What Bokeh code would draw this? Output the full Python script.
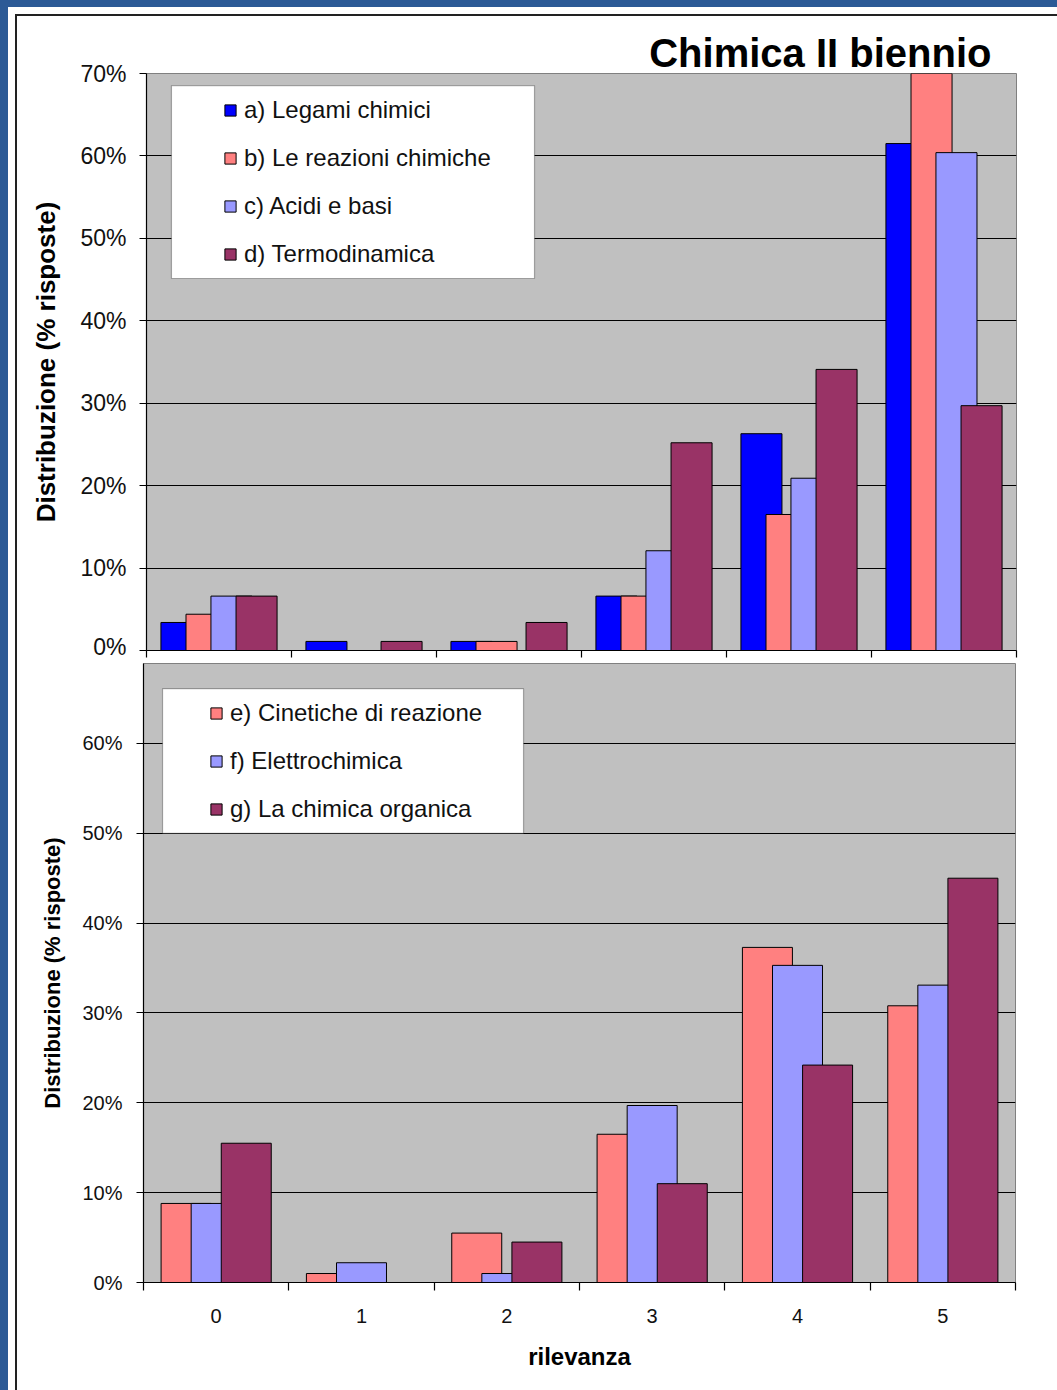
from bokeh.plotting import figure
from bokeh.layouts import column, row
from bokeh.models import (Range1d, FixedTicker, PrintfTickFormatter, Legend, LegendItem,
                          BoxAnnotation, ColumnDataSource, Spacer)
from bokeh.transform import dodge
from bokeh.embed import file_html
from bokeh.resources import INLINE

# ---------------- data ----------------
rilevanza = [0, 1, 2, 3, 4, 5]
tick_labels = ["0", "1", "2", "3", "4", "5"]

top_names = ["a) Legami chimici", "b) Le reazioni chimiche", "c) Acidi e basi", "d) Termodinamica"]
legami = [3.4, 1.1, 1.1, 6.6, 26.3, 61.5]
reazioni = [4.4, 0.0, 1.1, 6.6, 16.5, 71.5]
acidi = [6.6, 0.0, 0.0, 12.1, 20.9, 60.4]
termo = [6.6, 1.1, 3.4, 25.2, 34.1, 29.7]

bottom_names = ["e) Cinetiche di reazione", "f) Elettrochimica", "g) La chimica organica"]
cinetiche = [8.8, 1.0, 5.5, 16.5, 37.3, 30.8]
elettro = [8.8, 2.2, 1.0, 19.7, 35.3, 33.1]
organica = [15.5, 0.0, 4.5, 11.0, 24.2, 45.0]

title_text = "Chimica II biennio"
y_title = "Distribuzione (% risposte)"
x_title = "rilevanza"

# ---------------- styles ----------------
FONT = "Liberation Sans"
C_A = "#0000FF"
C_B = "#FF8080"
C_C = "#9999FF"
C_D = "#993366"
PLOT_BG = "#C0C0C0"
BLUE_BG = "#2c5a96"

src_top = ColumnDataSource(dict(x=rilevanza, a=legami, b=reazioni, c=acidi, d=termo))
src_bot = ColumnDataSource(dict(x=rilevanza, e=cinetiche, f=elettro, g=organica))


def base_fig(w, h, bl, br, bt, bb, ymax):
    p = figure(width=w, height=h, x_range=Range1d(-0.5, 5.5), y_range=Range1d(0, ymax),
               output_backend="svg", toolbar_location=None,
               min_border_left=bl, min_border_right=br, min_border_top=bt, min_border_bottom=bb)
    p.background_fill_color = PLOT_BG
    p.border_fill_color = "white"
    p.outline_line_color = "#808080"
    p.outline_line_width = 1
    p.xgrid.visible = False
    p.ygrid.grid_line_color = "black"
    p.ygrid.grid_line_width = 1.2
    for ax in (p.xaxis[0], p.yaxis[0]):
        ax.axis_line_color = "black"
        ax.axis_line_width = 1.2
        ax.major_tick_line_color = "black"
        ax.major_tick_line_width = 1.2
        ax.minor_tick_line_color = "black"
        ax.minor_tick_line_width = 1.2
        ax.major_tick_in = 0
        ax.minor_tick_in = 0
        ax.major_label_text_font = FONT
        ax.major_label_text_color = "#111111"
        ax.axis_label_text_font = FONT
        ax.axis_label_text_font_style = "bold"
        ax.axis_label_text_color = "black"
    p.yaxis[0].major_tick_out = 7
    p.yaxis[0].minor_tick_out = 0
    p.yaxis[0].formatter = PrintfTickFormatter(format="%d%%")
    return p


# ---------------- top chart ----------------
W = 1040
p1 = base_fig(W, 643, 129, 41, 57, 9, 70)
p1.title.text = title_text
p1.title.align = "right"
p1.title.offset = 25
p1.title.standoff = -3
p1.title.text_font = FONT
p1.title.text_font_size = "40px"
p1.title.text_font_style = "bold"
p1.title.text_color = "black"
p1.yaxis[0].ticker = FixedTicker(ticks=[0, 10, 20, 30, 40, 50, 60, 70], minor_ticks=[])
p1.ygrid.ticker = FixedTicker(ticks=[10, 20, 30, 40, 50, 60])
p1.yaxis[0].major_label_text_font_size = "23px"
p1.yaxis[0].major_label_standoff = 13
p1.yaxis[0].axis_label = y_title
p1.yaxis[0].axis_label_text_font_size = "26px"
p1.yaxis[0].axis_label_standoff = 16
p1.xaxis[0].ticker = FixedTicker(ticks=[-0.5, 0.5, 1.5, 2.5, 3.5, 4.5, 5.5], minor_ticks=[])
p1.xaxis[0].major_tick_out = 7
p1.xaxis[0].major_label_text_font_size = "1px"
p1.xaxis[0].major_label_text_alpha = 0
p1.xaxis[0].major_label_standoff = 0

tw = 0.283
offs_top = [-0.259, -0.086, 0.086, 0.259]
rs_top = []
for key, col, off in zip(["a", "b", "c", "d"], [C_A, C_B, C_C, C_D], offs_top):
    r = p1.vbar(x=dodge("x", off, range=p1.x_range), top=key, width=tw, bottom=0, source=src_top,
                fill_color=col, line_color="black", line_width=1)
    rs_top.append(r)

p1.add_layout(BoxAnnotation(left=-0.328, right=2.176, bottom=45.13, top=68.54,
                            fill_color="white", fill_alpha=1, line_color="black", line_width=1.2))
leg1 = Legend(items=[LegendItem(label=n, renderers=[r]) for n, r in zip(top_names, rs_top)],
              location=(77, 382), orientation="vertical",
              background_fill_alpha=0, border_line_alpha=0, padding=0, margin=0,
              spacing=20, label_height=28, glyph_height=14, glyph_width=14, label_standoff=7,
              label_text_font=FONT, label_text_font_size="24px", label_text_color="#111111")
p1.add_layout(leg1, "center")

# ---------------- bottom chart ----------------
p2 = base_fig(W, 731, 126, 42, 4, 108, 68.9)
p2.yaxis[0].ticker = FixedTicker(ticks=[0, 10, 20, 30, 40, 50, 60], minor_ticks=[])
p2.ygrid.ticker = FixedTicker(ticks=[10, 20, 30, 40, 50, 60])
p2.yaxis[0].major_label_text_font_size = "20px"
p2.yaxis[0].major_label_standoff = 14
p2.yaxis[0].axis_label = y_title
p2.yaxis[0].axis_label_text_font_size = "22px"
p2.yaxis[0].axis_label_standoff = 14
p2.xaxis[0].ticker = FixedTicker(ticks=rilevanza, minor_ticks=[-0.5, 0.5, 1.5, 2.5, 3.5, 4.5, 5.5])
p2.xaxis[0].major_label_overrides = {v: t for v, t in zip(rilevanza, tick_labels)}
p2.xaxis[0].major_tick_out = 0
p2.xaxis[0].minor_tick_out = 8
p2.xaxis[0].major_label_text_font_size = "20px"
p2.xaxis[0].major_label_standoff = 18
p2.xaxis[0].axis_label = x_title
p2.xaxis[0].axis_label_text_font_size = "24px"
p2.xaxis[0].axis_label_standoff = 17

bw = 0.344
offs_bot = [-0.207, 0.0, 0.207]
rs_bot = []
for key, col, off in zip(["e", "f", "g"], [C_B, C_C, C_D], offs_bot):
    r = p2.vbar(x=dodge("x", off, range=p2.x_range), top=key, width=bw, bottom=0, source=src_bot,
                fill_color=col, line_color="black", line_width=1)
    rs_bot.append(r)

p2.add_layout(BoxAnnotation(left=-0.369, right=2.115, bottom=50.0, top=66.1,
                            fill_color="white", fill_alpha=1, line_color="black", line_width=1.2))
leg2 = Legend(items=[LegendItem(label=n, renderers=[r]) for n, r in zip(bottom_names, rs_bot)],
              location=(66, 459), orientation="vertical",
              background_fill_alpha=0, border_line_alpha=0, padding=0, margin=0,
              spacing=20, label_height=28, glyph_height=14, glyph_width=14, label_standoff=7,
              label_text_font=FONT, label_text_font_size="24px", label_text_color="#111111")
p2.add_layout(leg2, "center")

inner = column(row(p1, spacing=0), row(p2, spacing=0), spacing=0,
               styles={"border-left": "2px solid #222222", "border-top": "2px solid #222222"})
white_panel = column(Spacer(width=1049, height=7),
                     row(Spacer(width=7, height=1376), inner, spacing=0),
                     spacing=0)
layout = column(Spacer(width=1057, height=7, styles={"background-color": BLUE_BG}),
                row(Spacer(width=8, height=1383, styles={"background-color": BLUE_BG}), white_panel,
                    spacing=0),
                spacing=0)

open("out.html", "w").write(file_html(layout, INLINE))
